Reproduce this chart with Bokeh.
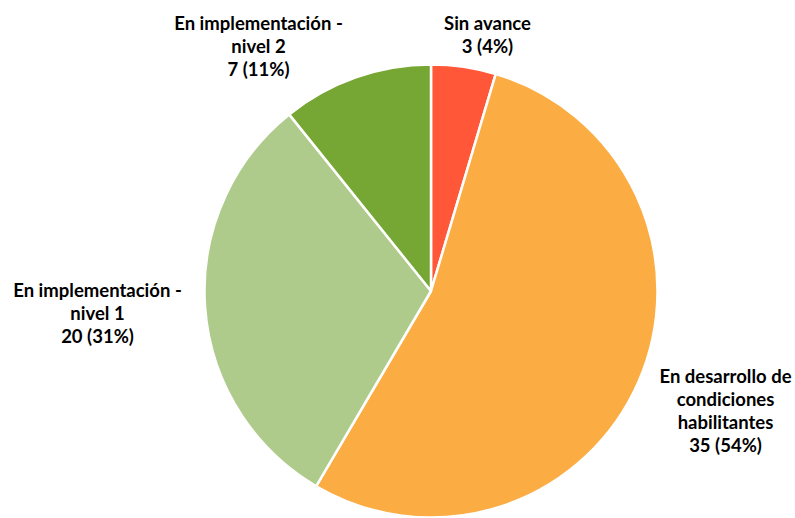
import math
from bokeh.plotting import figure
from bokeh.models import Range1d, ColumnDataSource
from bokeh.core.properties import value
from bokeh.embed import file_html
from bokeh.resources import INLINE

# ---- data ----
categories = ["Sin avance", "En desarrollo de condiciones habilitantes",
              "En implementación - nivel 1", "En implementación - nivel 2"]
counts = [3, 35, 20, 7]
pct_labels = ["4%", "54%", "31%", "11%"]
colors = ["#FF5737", "#FBAD44", "#AECB8B", "#76A734"]
label_lines = [["Sin avance"],
               ["En desarrollo de", "condiciones", "habilitantes"],
               ["En implementación -", "nivel 1"],
               ["En implementación -", "nivel 2"]]

W, H = 795, 518
p = figure(width=W, height=H, output_backend="svg", toolbar_location=None,
           x_range=Range1d(0, W), y_range=Range1d(0, H), min_border=0)
p.axis.visible = False
p.grid.visible = False
p.outline_line_color = None
p.background_fill_color = "white"
p.border_fill_color = "white"

# pie geometry (pixel-like units)
cx, cy, r = 430.5, H - 290.5, 226.5
total = sum(counts)
starts, ends = [], []
a = math.pi / 2
for c in counts:
    starts.append(a)
    a -= c / total * 2 * math.pi
    ends.append(a)

src = ColumnDataSource(dict(start=starts, end=ends, color=colors))
p.wedge(x=cx, y=cy, radius=r, start_angle="start", end_angle="end",
        direction="clock", fill_color="color", line_color="white",
        line_width=2.5, source=src)

# label anchors (center x, first-line y) in page pixels
anchors = [(487, 22), (725, 375), (97, 289), (258, 22)]
lh = 23.3
xs, ys, ts = [], [], []
for (ax, ay), lines, n, pc in zip(anchors, label_lines, counts, pct_labels):
    all_lines = lines + [f"{n} ({pc})"]
    for i, t in enumerate(all_lines):
        xs.append(ax)
        ys.append(H - (ay + i * lh))
        ts.append(t)

p.text(x=xs, y=ys, text=ts, text_font=value("Lato"), text_font_style="bold",
       text_font_size="18.5px", text_color="#000000", text_align="center",
       text_baseline="middle")

open("out.html", "w").write(file_html(p, INLINE))
